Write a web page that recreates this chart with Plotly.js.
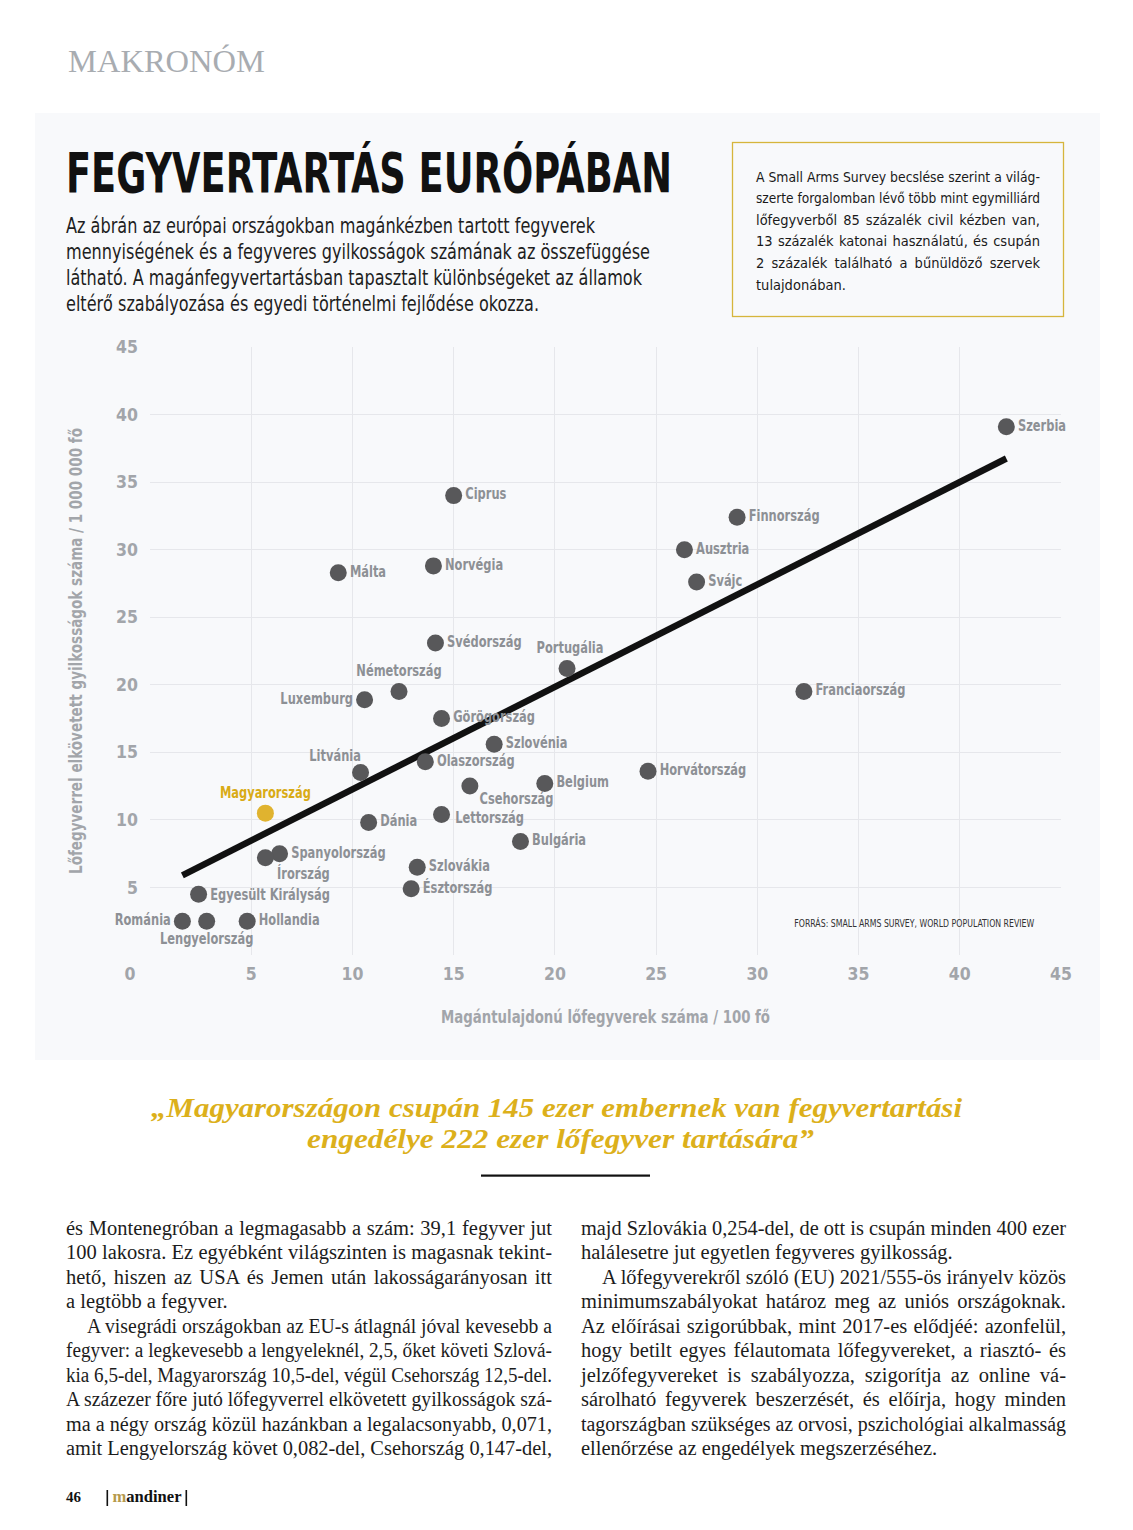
<!DOCTYPE html>
<html><head><meta charset="utf-8">
<script src="https://cdn.plot.ly/plotly-3.0.1.min.js"></script>
<style>
html,body{margin:0;padding:0;background:#fff;}
#page{position:relative;width:1133px;height:1530px;overflow:hidden;background:#fff;}
#chart{position:absolute;left:35px;top:113px;width:1065px;height:947px;}
#overlay{position:absolute;left:0;top:0;pointer-events:none;}
</style></head>
<body>
<div id="page">
  <div id="chart"></div>
  <svg id="overlay" width="1133" height="1530" xmlns="http://www.w3.org/2000/svg"></svg>
</div>
<script>
// ---------------- DATA ----------------
const countries = ["Szerbia","Finnország","Ausztria","Svájc","Ciprus","Norvégia","Málta","Svédország",
  "Portugália","Németország","Luxemburg","Franciaország","Görögország","Szlovénia","Olaszország","Litvánia",
  "Horvátország","Csehország","Belgium","Magyarország","Dánia","Lettország","Bulgária","Spanyolország",
  "Írország","Szlovákia","Észtország","Egyesült Királyság","Románia","Lengyelország","Hollandia"];
const gunsPer100 = [42.3,29.0,26.4,27.0,15.0,14.0,9.3,14.1,
  20.6,12.3,10.6,32.3,14.4,17.0,13.6,10.4,
  24.6,15.8,19.5,5.7,10.8,14.4,18.3,6.4,
  5.7,13.2,12.9,2.4,1.6,2.8,4.8];
const homicidesPerMillion = [39.1,32.4,30.0,27.6,34.0,28.8,28.3,23.1,
  21.2,19.5,18.9,19.5,17.5,15.6,14.3,13.5,
  13.6,12.5,12.7,10.5,9.8,10.4,8.4,7.5,
  7.2,6.5,4.9,4.5,2.5,2.5,2.5];
const highlightCountry = "Magyarország";
const axisTicks = [0,5,10,15,20,25,30,35,40,45];
const xTitle = "Magántulajdonú lőfegyverek száma / 100 fő";
const yTitle = "Lőfegyverrel elkövetett gyilkosságok száma / 1 000 000 fő";
const sourceText = "FORRÁS: SMALL ARMS SURVEY, WORLD POPULATION REVIEW";

// label placement and small pixel nudges (style only)
const labelPlacement = {
  "Portugália":"top center","Németország":"top center","Luxemburg":"middle left","Litvánia":"top left",
  "Csehország":"bottom right","Magyarország":"top center","Írország":"bottom right","Románia":"middle left",
  "Lengyelország":"bottom center"
};
const labelNudge = {"Litvánia":[12,4],"Csehország":[-2,-5],"Lettország":[2,5],"Írország":[0,-2],
  "Egyesült Királyság":[0,2],"Portugália":[3,0]};

// ---------------- TREND (OLS) ----------------
const n = gunsPer100.length;
const mx = gunsPer100.reduce((a,b)=>a+b,0)/n;
const my = homicidesPerMillion.reduce((a,b)=>a+b,0)/n;
let sxy=0,sxx=0;
for(let i=0;i<n;i++){sxy+=(gunsPer100[i]-mx)*(homicidesPerMillion[i]-my);sxx+=(gunsPer100[i]-mx)**2;}
const slope=sxy/sxx, intercept=my-slope*mx;
const xMin=Math.min(...gunsPer100), xMax=Math.max(...gunsPer100);
const trendX=[xMin,xMax], trendY=trendX.map(x=>intercept+slope*x);

// ---------------- CHART ----------------
const COND = '"Liberation Sans Narrow","DejaVu Sans Condensed","Roboto Condensed","Arial Narrow",Roboto,sans-serif';
const GOLD = '#e0b32f';
const isHi = countries.map(c=>c===highlightCountry);

const traces = [
  {x:trendX,y:trendY,mode:'lines',line:{color:'#111111',width:6.5},hoverinfo:'skip',cliponaxis:false},
  {x:gunsPer100,y:homicidesPerMillion,text:countries,mode:'markers+text',cliponaxis:false,
   textposition:countries.map(c=>labelPlacement[c]||'middle right'),
   marker:{size:17,color:isHi.map(h=>h?GOLD:'#58585a')},
   textfont:{family:COND,size:15.5,weight:'bold',color:isHi.map(h=>h?'#d9ab16':'#8d9095')},
   hoverinfo:'x+y+text'}
];
const tickFont={family:COND,size:17.5,weight:'bold',color:'#a2a5aa'};
const layout = {
  width:1065,height:947,margin:{l:115,r:39,t:234,b:105},
  paper_bgcolor:'#f8f9fb',plot_bgcolor:'#f8f9fb',showlegend:false,
  xaxis:{range:[0,45],tickvals:axisTicks,ticktext:axisTicks.map(String),showgrid:true,gridcolor:'#e6e7eb',gridwidth:1,
    zeroline:false,showline:false,ticks:'',tickfont:tickFont,ticklabelstandoff:6,fixedrange:true,
    title:{text:xTitle,font:{family:COND,size:17.5,weight:'bold',color:'#a2a5aa'},standoff:28}},
  yaxis:{range:[0,45],tickvals:axisTicks,ticktext:axisTicks.map(v=>v===0?'':String(v)),showgrid:true,gridcolor:'#e6e7eb',gridwidth:1,
    zeroline:false,showline:false,ticks:'',tickfont:tickFont,ticklabelstandoff:11,fixedrange:true,
    title:{text:yTitle,font:{family:COND,size:17.5,weight:'bold',color:'#a2a5aa'},standoff:28}},
  annotations:[{xref:'paper',yref:'paper',x:0.8387,y:0.052,xanchor:'center',yanchor:'middle',showarrow:false,
    text:sourceText,font:{family:COND,size:10.5,color:'#333333'}}]
};

function squeeze(t,target){
  t.setAttribute('textLength',target.toFixed(1));t.setAttribute('lengthAdjust','spacingAndGlyphs');
}
Plotly.newPlot('chart',traces,layout,{displayModeBar:false,staticPlot:true}).then(()=>{
  const root=document.getElementById('chart');
  root.querySelectorAll('.textpoint').forEach(g=>{
    const t=g.querySelector('text');if(!t)return;
    const w=t.getComputedTextLength();if(w>0)squeeze(t,w*0.82);
    const nd=labelNudge[t.textContent];
    if(nd){const prev=g.getAttribute('transform')||'';
      g.setAttribute('transform',(prev+' translate('+nd[0]+','+nd[1]+')').trim());}
  });
  const xt=root.querySelector('.xtitle');if(xt)squeeze(xt,329);
  const yt=root.querySelector('.ytitle');if(yt)squeeze(yt,446);
  root.querySelectorAll('.annotation-text').forEach(t=>squeeze(t,240));
  // corner "0" label sits left of the axis in the original
  const first=root.querySelector('.xtick text');
  if(first&&first.textContent==='0')first.setAttribute('x',(parseFloat(first.getAttribute('x')||0)-20));
});

// ---------------- PAGE TEXT ----------------
const NS='http://www.w3.org/2000/svg';
const svg=document.getElementById('overlay');
function txt(str,x,y,o){
  const t=document.createElementNS(NS,'text');
  if(o.sy){t.setAttribute('x',0);t.setAttribute('y',0);t.setAttribute('transform','translate('+x+','+y+') scale(1,'+o.sy+')');}
  else{t.setAttribute('x',x);t.setAttribute('y',y);}
  t.setAttribute('font-family',o.family);t.setAttribute('font-size',o.size);
  if(o.weight)t.setAttribute('font-weight',o.weight);
  if(o.style)t.setAttribute('font-style',o.style);
  t.setAttribute('fill',o.color||'#222');
  if(o.anchor)t.setAttribute('text-anchor',o.anchor);
  t.textContent=str;svg.appendChild(t);
  if(o.fit){t.setAttribute('textLength',o.fit);t.setAttribute('lengthAdjust','spacingAndGlyphs');}
  if(o.justify){
    const nat=t.getComputedTextLength();const sp=(str.match(/ /g)||[]).length;
    if(nat<o.justify&&sp){t.style.wordSpacing=((o.justify-nat)/sp).toFixed(2)+'px';}
    else{t.setAttribute('textLength',o.justify);t.setAttribute('lengthAdjust','spacingAndGlyphs');}
  }
  return t;
}
function rect(x,y,w,h,fill,stroke,sw){
  const r=document.createElementNS(NS,'rect');
  r.setAttribute('x',x);r.setAttribute('y',y);r.setAttribute('width',w);r.setAttribute('height',h);
  r.setAttribute('fill',fill);if(stroke){r.setAttribute('stroke',stroke);r.setAttribute('stroke-width',sw);}
  svg.appendChild(r);return r;
}
const SERIF='"Liberation Serif","DejaVu Serif",serif';

// header
txt('MAKRONÓM',68,72,{family:SERIF,size:31,color:'#a8acb1',fit:197});
// title (tall condensed look: smaller font stretched vertically)
txt('FEGYVERTARTÁS EURÓPÁBAN',66,192,{family:COND,size:40,weight:'bold',color:'#111',fit:606,sy:1.37});
// description
const desc=[['Az ábrán az európai országokban magánkézben tartott fegyverek',529],
 ['mennyiségének és a fegyveres gyilkosságok számának az összefüggése',584],
 ['látható. A magánfegyvertartásban tapasztalt különbségeket az államok',576],
 ['eltérő szabályozása és egyedi történelmi fejlődése okozza.',473]];
desc.forEach((d,i)=>txt(d[0],66,233+i*25.9,{family:COND,size:21,color:'#1e1e1e',fit:d[1]}));
// side box
rect(732.5,142.5,331,174,'none','#d6b53c',1.3);
const box=['A Small Arms Survey becslése szerint a világ-','szerte forgalomban lévő több mint egymilliárd',
 'lőfegyverből 85 százalék civil kézben van,','13 százalék katonai használatú, és csupán',
 '2 százalék található a bűnüldöző szervek','tulajdonában.'];
box.forEach((s,i)=>txt(s,756,181.5+i*21.6,{family:COND,size:14.5,color:'#1a1a1a',justify:i<box.length-1?284:0}));

// quote
txt('„Magyarországon csupán 145 ezer embernek van fegyvertartási',151,1117,{family:SERIF,size:28,weight:'bold',style:'italic',color:'#dcb01b',fit:811});
txt('engedélye 222 ezer lőfegyver tartására”',307,1148,{family:SERIF,size:28,weight:'bold',style:'italic',color:'#dcb01b',fit:507});
rect(481,1174.5,169,2.2,'#111');

// body text
const leftCol=[['és Montenegróban a legmagasabb a szám: 39,1 fegyver jut',1,0],
 ['100 lakosra. Ez egyébként világszinten is magasnak tekint-',1,0],
 ['hető, hiszen az USA és Jemen után lakosságarányosan itt',1,0],
 ['a legtöbb a fegyver.',0,0],
 ['A visegrádi országokban az EU-s átlagnál jóval kevesebb a',1,1],
 ['fegyver: a legkevesebb a lengyeleknél, 2,5, őket követi Szlová-',1,0],
 ['kia 6,5-del, Magyarország 10,5-del, végül Csehország 12,5-del.',1,0],
 ['A százezer főre jutó lőfegyverrel elkövetett gyilkosságok szá-',1,0],
 ['ma a négy ország közül hazánkban a legalacsonyabb, 0,071,',1,0],
 ['amit Lengyelország követ 0,082-del, Csehország 0,147-del,',1,0]];
const rightCol=[['majd Szlovákia 0,254-del, de ott is csupán minden 400 ezer',1,0],
 ['halálesetre jut egyetlen fegyveres gyilkosság.',0,0],
 ['A lőfegyverekről szóló (EU) 2021/555-ös irányelv közös',1,1],
 ['minimumszabályokat határoz meg az uniós országoknak.',1,0],
 ['Az előírásai szigorúbbak, mint 2017-es elődjéé: azonfelül,',1,0],
 ['hogy betilt egyes félautomata lőfegyvereket, a riasztó- és',1,0],
 ['jelzőfegyvereket is szabályozza, szigorítja az online vá-',1,0],
 ['sárolható fegyverek beszerzését, és előírja, hogy minden',1,0],
 ['tagországban szükséges az orvosi, pszichológiai alkalmasság',1,0],
 ['ellenőrzése az engedélyek megszerzéséhez.',0,0]];
function col(lines,x0,w){
  lines.forEach((l,i)=>{const ind=l[2]?21:0;
    txt(l[0],x0+ind,1235+i*24.45,{family:SERIF,size:20.5,color:'#1c1c1c',justify:l[1]?w-ind:0});});
}
col(leftCol,66,486);col(rightCol,581,485);

// footer
txt('46',66,1502,{family:SERIF,size:15,weight:'bold',color:'#111'});
rect(106.5,1490,1.6,16,'#111');rect(185.5,1490,1.6,16,'#111');
const ft=txt('',112.5,1502,{family:SERIF,size:16,weight:'bold',color:'#111',fit:69});
const tm=document.createElementNS(NS,'tspan');tm.setAttribute('fill','#b69a4c');tm.textContent='m';
const tr=document.createElementNS(NS,'tspan');tr.textContent='andiner';
ft.appendChild(tm);ft.appendChild(tr);
</script>
</body></html>
